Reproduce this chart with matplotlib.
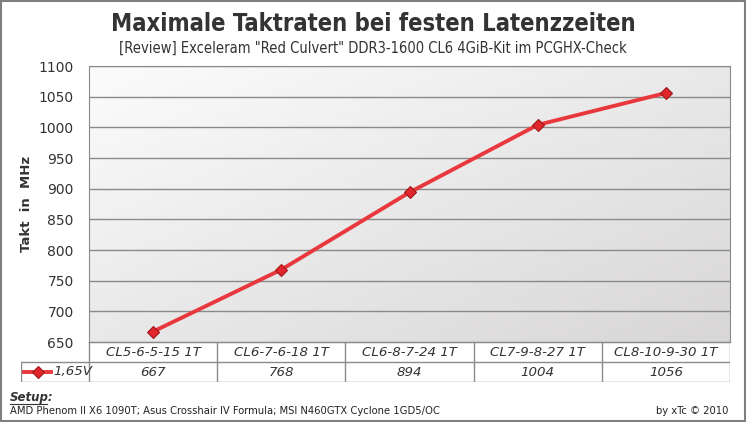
import numpy as np
import matplotlib.pyplot as plt
from matplotlib.lines import Line2D
from matplotlib.colors import LinearSegmentedColormap

# ===============================
# DATA
# ===============================
categories = ["CL5-6-5-15 1T", "CL6-7-6-18 1T", "CL6-8-7-24 1T",
              "CL7-9-8-27 1T", "CL8-10-9-30 1T"]
values = [667, 768, 894, 1004, 1056]
series_name = "1,65V"
yticks = [650, 700, 750, 800, 850, 900, 950, 1000, 1050, 1100]

W, H = 746, 422
RED = "#e8383d"
GRID = "#8a8a8a"
TXT = "#333333"


def fx(px):
    return px / W


def fy(py):
    return 1 - py / H


fig = plt.figure(figsize=(W / 100, H / 100), dpi=100)
fig.patch.set_facecolor("white")

# outer border
fig.add_artist(plt.Rectangle((fx(1), fy(421)), fx(744), (420) / H,
                             transform=fig.transFigure, fill=False,
                             edgecolor="#7f7f7f", linewidth=1.5))

# ===============================
# TITLES
# ===============================
fig.text(0.5, fy(24), "Maximale Taktraten bei festen Latenzzeiten",
         ha="center", va="center", fontsize=17, fontweight="bold",
         color=TXT, family="DejaVu Sans", stretch="condensed")
fig.text(0.5, fy(48),
         '[Review] Exceleram "Red Culvert" DDR3-1600 CL6 4GiB-Kit im PCGHX-Check',
         ha="center", va="center", fontsize=10.5, color=TXT,
         family="DejaVu Sans", stretch="condensed")

# ===============================
# MAIN PLOT
# ===============================
left, right, top, bottom = 89, 730, 66, 342
ax = fig.add_axes([fx(left), fy(bottom), fx(right - left), (bottom - top) / H])

# gradient background
gx, gy = np.meshgrid(np.linspace(0, 1, 200), np.linspace(0, 1, 200))
grad = 0.5 * gx + 0.5 * gy
ax.imshow(grad, extent=[-0.5, 4.5, 650, 1100], aspect="auto",
          cmap=LinearSegmentedColormap.from_list("bg", ["#fcfcfc", "#d8d6d6"]),
          origin="upper", zorder=0)

x = np.arange(len(categories))
ax.plot(x, values, color=RED, linewidth=2.8, zorder=3,
        marker="D", markersize=6, markerfacecolor="#e0262c",
        markeredgecolor="#a01818", markeredgewidth=0.8)

ax.set_xlim(-0.5, 4.5)
ax.set_ylim(650, 1100)
ax.set_yticks(yticks)
ax.set_yticklabels([str(v) for v in yticks], fontsize=10, color=TXT)
ax.set_xticks([])
ax.yaxis.grid(True, color=GRID, linewidth=1)
ax.set_axisbelow(False)
for s in ax.spines.values():
    s.set_color(GRID)
ax.tick_params(axis="y", length=0, pad=11)
ax.set_ylabel("Takt  in  MHz", fontsize=9.5, fontweight="bold",
              color=TXT, labelpad=4)

# ===============================
# DATA TABLE
# ===============================
tab = fig.add_axes([fx(21), fy(382), fx(730 - 21), 40 / H])
tab.set_xlim(21, 730)
tab.set_ylim(382, 342)
tab.axis("off")

colw = (right - left) / len(categories)
bounds = [left + i * colw for i in range(len(categories) + 1)]

lk = dict(color=GRID, linewidth=1)
tab.plot([left, right], [342, 342], **lk)
tab.plot([21, right], [362, 362], **lk)
tab.plot([21, right], [382, 382], **lk)
tab.plot([21, 21], [362, 382], **lk)
for b in bounds:
    tab.plot([b, b], [342, 382], **lk)

for i, (c, v) in enumerate(zip(categories, values)):
    cx = (bounds[i] + bounds[i + 1]) / 2
    tab.text(cx, 352, c, ha="center", va="center", fontsize=9.6,
             style="italic", color=TXT)
    tab.text(cx, 372, str(v), ha="center", va="center", fontsize=9.6,
             style="italic", color=TXT)

# legend key in table
tab.add_line(Line2D([24, 51], [372, 372], color=RED, linewidth=2.8))
tab.plot([37.5], [372], marker="D", markersize=6, color="#e0262c",
         markeredgecolor="#a01818", markeredgewidth=0.8)
tab.text(53, 372, series_name, ha="left", va="center", fontsize=9.6,
         style="italic", color=TXT)

# ===============================
# FOOTER
# ===============================
fig.text(fx(10), fy(398), "Setup:", ha="left", va="center", fontsize=8.5,
         fontweight="bold", style="italic", color=TXT)
fig.add_artist(Line2D([fx(10), fx(47)], [fy(404), fy(404)],
                      transform=fig.transFigure, color=TXT, linewidth=0.8))
fig.text(fx(10), fy(411),
         "AMD Phenom II X6 1090T; Asus Crosshair IV Formula; MSI N460GTX Cyclone 1GD5/OC",
         ha="left", va="center", fontsize=8, color="#222222",
         stretch="condensed")
fig.text(fx(728), fy(411), "by xTc \u00a9 2010", ha="right", va="center",
         fontsize=8, color="#222222", stretch="condensed")

plt.savefig("out.png", dpi=100)
